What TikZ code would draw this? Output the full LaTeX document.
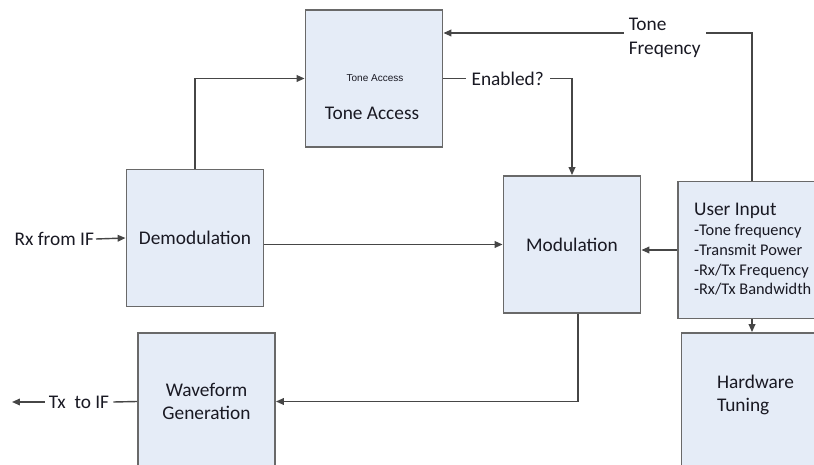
\documentclass[tikz,border=0pt]{standalone}
\usepackage{fontspec}
\setmainfont{Carlito}
\newfontfamily\arialfont{Liberation Sans}
\usetikzlibrary{arrows.meta,calc}

\definecolor{boxfill}{RGB}{229,236,247}
\definecolor{boxline}{RGB}{105,105,105}
\definecolor{linecol}{RGB}{70,70,70}
\definecolor{txtcol}{RGB}{25,25,35}

\tikzset{
  blockbox/.style={draw=boxline, line width=1.1pt, fill=boxfill, minimum width=2.74cm,
    minimum height=2.74cm, inner sep=0pt, align=center, text=txtcol,
    font=\fontsize{11}{13.4}\selectfont},
  lbl/.style={inner sep=1pt, text=txtcol, font=\fontsize{11}{13.6}\selectfont},
  conn/.style={draw=linecol, line width=0.8pt},
  arr/.style={conn, -{Triangle[length=4.5pt,width=3.8pt]}},
}

\begin{document}
\begin{tikzpicture}[x=0.02cm,y=-0.02cm]
\useasboundingbox (0,0) rectangle (814,465);

% blocks
\node[blockbox] (tone) at (374,78.5) {};
\node[lbl, font=\arialfont\fontsize{5.7}{7}\selectfont] (tonesm) at (375,78) {Tone Access};
\node[lbl] (tonebig) at (372,113) {Tone Access};

\node[blockbox] (demod) at (195,238) {Demodulation};
\node[blockbox] (modul) at (572,244.5) {Modulation};
\node[blockbox] (wave) at (206.5,401.5) {Waveform\\Generation};

\node[blockbox, minimum width=2.76cm] (uin) at (747,250) {};
\node[lbl, anchor=base west] (uititle) at (692,215.5) {User Input};
\foreach \t [count=\i] in {-Tone frequency,-Transmit Power,-Rx/Tx Frequency,-Rx/Tx Bandwidth}{
  \node[lbl, anchor=base west, font=\fontsize{9.3}{11}\selectfont] (ui\i) at (692,216+\i*19.7) {\t};
}

\node[blockbox, minimum width=2.9cm] (hw) at (754,401.5) {};
\node[lbl, anchor=west, align=left] (hwtxt) at (715,395) {Hardware\\Tuning};

% in / out labels
\node[lbl, anchor=east] (rx) at (96,239) {Rx from IF};
\node[lbl, inner xsep=0.08cm] (txif) at (79,402) {Tx~ to IF};
\coordinate (txend) at (12,402);
\coordinate (tf) at (752,33);

% connectors
\draw[arr] (rx.east) -- (demod.west);
\draw[arr] (demod.north) |- (tone.west);
\draw[arr] (tone.east) -| node[lbl, fill=white, inner xsep=0.12cm, pos=0.25] (enab) {Enabled?} (modul.north);
\draw[arr] (modul.west -| demod.east) -- (modul.west);
\draw[arr] (uin.west) -- (modul.east |- uin.west);
\draw[arr] (uin.north -| tf) -- (tf) -- node[lbl, fill=white, align=left, pos=0.283, inner xsep=0.1cm, yshift=-0.1cm] (tfq) {Tone\\Freqency} (tf -| tone.east);
\draw[arr] (uin.south -| tf) -- (hw.north -| tf);
\draw[arr] ($(modul.south)+(6,0)$) |- (wave.east);
\draw[conn] (wave.west) -- (txif.east);
\draw[arr] (txif.west) -- (txend);

\end{tikzpicture}
\end{document}
